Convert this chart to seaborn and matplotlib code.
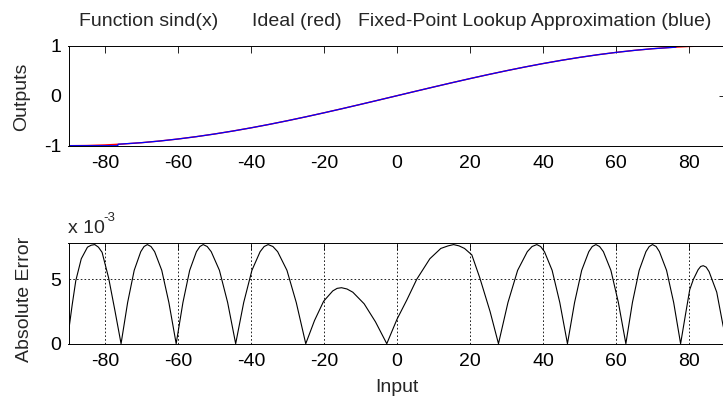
import matplotlib
matplotlib.use("Agg")
import matplotlib.pyplot as plt
import seaborn as sns

# ---------------- data ----------------
angle_deg = [-90, -85, -80, -75, -70, -65, -60, -55, -50, -45, -40, -35, -30, -25, -20, -15, -10, -5,
             0, 5, 10, 15, 20, 25, 30, 35, 40, 45, 50, 55, 60, 65, 70, 75, 80, 85, 90]
sind_ideal = [-1.0, -0.9962, -0.9848, -0.9659, -0.9397, -0.9063, -0.8660, -0.8192, -0.7660, -0.7071,
              -0.6428, -0.5736, -0.5, -0.4226, -0.3420, -0.2588, -0.1736, -0.0872,
              0.0, 0.0872, 0.1736, 0.2588, 0.3420, 0.4226, 0.5, 0.5736, 0.6428, 0.7071, 0.7660,
              0.8192, 0.8660, 0.9063, 0.9397, 0.9659, 0.9848, 0.9962, 1.0]

lookup_deg = [-90, -76.5, -76.4, -70, -65, -60, -55, -50, -45, -40, -35, -30, -25, -20, -15, -10, -5,
              0, 5, 10, 15, 20, 25, 30, 35, 40, 45, 50, 55, 60, 65, 70, 76.4, 76.5, 90]
sind_lookup = [-1.0, -1.0, -0.970, -0.9397, -0.9063, -0.8660, -0.8192, -0.7660, -0.7071, -0.6428,
               -0.5736, -0.5, -0.4226, -0.3420, -0.2588, -0.1736, -0.0872,
               0.0, 0.0872, 0.1736, 0.2588, 0.3420, 0.4226, 0.5, 0.5736, 0.6428, 0.7071, 0.7660,
               0.8192, 0.8660, 0.9063, 0.9397, 0.970, 1.0, 1.0]

err_deg = [-90, -89, -88, -86.5, -84.8, -83.8, -82.8, -81.8, -80.8, -79, -77.3, -75.6,
           -73.8, -72.0, -70.2, -69.3, -68.4, -67.4, -66.4, -64.45, -62.5, -60.5,
           -58.65, -56.8, -54.95, -54.0, -53.1, -52.0, -50.9, -48.65, -46.4, -44.2,
           -42.0, -39.75, -37.5, -36.4, -35.3, -34.0, -32.7, -30.15, -27.6, -25.0,
           -22.6, -20.1, -17.6, -16.4, -15.2, -13.7, -12.1, -9.0, -5.9, -2.8,
           0, 2.7, 5.4, 9.0, 12.0, 14.0, 15.5, 17.0, 18.5, 20.5, 22.7, 25.5, 27.8,
           30.4, 33.05, 35.7, 37.0, 38.3, 39.35, 40.4, 42.5, 44.6, 46.7,
           48.65, 50.6, 52.55, 53.5, 54.5, 55.5, 56.55, 58.6, 60.65, 62.7,
           64.5, 66.35, 68.2, 69.1, 70.0, 71.0, 71.9, 73.85, 75.8, 77.7,
           79.0, 80.2, 81.2, 82.5, 83.2, 83.9, 84.7, 85.5, 87.6, 89.3, 90]
abs_err_e3 = [0.9, 3.0, 4.9, 6.6, 7.5, 7.65, 7.7, 7.5, 7.1, 5.1, 2.6, 0.0,
              3.2, 5.7, 7.15, 7.55, 7.7, 7.55, 7.15, 5.7, 3.2, 0.0,
              3.2, 5.7, 7.15, 7.55, 7.7, 7.55, 7.15, 5.7, 3.2, 0.0,
              3.2, 5.7, 7.15, 7.55, 7.7, 7.55, 7.15, 5.7, 3.2, 0.0,
              1.8, 3.3, 4.1, 4.3, 4.35, 4.25, 4.0, 3.1, 1.7, 0.0,
              1.9, 3.4, 5.0, 6.6, 7.4, 7.6, 7.7, 7.6, 7.4, 6.9, 5.1, 2.5, 0.0,
              3.2, 5.7, 7.15, 7.55, 7.7, 7.55, 7.15, 5.7, 3.2, 0.0,
              3.2, 5.7, 7.15, 7.55, 7.7, 7.55, 7.15, 5.7, 3.2, 0.0,
              3.2, 5.7, 7.15, 7.55, 7.7, 7.55, 7.15, 5.7, 3.2, 0.0,
              2.2, 4.2, 5.0, 5.75, 6.0, 6.06, 5.95, 5.6, 4.0, 1.45, 0.6]

x_ticks = [-80, -60, -40, -20, 0, 20, 40, 60, 80]
x_tick_labels = ["-80", "-60", "-40", "-20", "0", "20", "40", "60", "80"]
top_y_ticks = [-1, 0, 1]
bottom_y_ticks = [0, 5]

# ---------------- style ----------------
sns.set_style("white")
plt.rcParams['font.family'] = ['Liberation Sans', 'DejaVu Sans']

W, H = 723, 397
fig = plt.figure(figsize=(W / 100, H / 100), dpi=100)
ax1 = fig.add_axes([68.5 / W, 1 - 145.7 / H, 657 / W, 100 / H])
ax2 = fig.add_axes([68.5 / W, 1 - 343.7 / H, 657 / W, 100.4 / H])

sns.lineplot(x=angle_deg, y=sind_ideal, ax=ax1, color=(1, 0, 0), lw=1.0)
sns.lineplot(x=lookup_deg, y=sind_lookup, ax=ax1, color=(0, 0, 1), lw=0.9)
sns.lineplot(x=err_deg, y=abs_err_e3, ax=ax2, color='black', lw=0.8)

for ax in (ax1, ax2):
    ax.set_xlim(-90, 90)
    ax.set_xticks(x_ticks)
    ax.set_xticklabels(x_tick_labels)
    ax.tick_params(direction='in', length=5, width=0.6, colors='black',
                   top=True, right=True, labelsize=14, pad=5)
    ax.tick_params(axis='x', pad=7)
    for s in ax.spines.values():
        s.set_visible(True)
        s.set_color('black')
        s.set_linewidth(0.7)
    ax.set_xlabel('')
    ax.set_ylabel('')

ax1.set_ylim(-1, 1)
ax1.set_yticks(top_y_ticks)
ax1.set_yticklabels([str(v) for v in top_y_ticks])

ax2.set_ylim(0, 7.8)
ax2.set_yticks(bottom_y_ticks)
ax2.set_yticklabels([str(v) for v in bottom_y_ticks])
ax2.grid(True, color='black', linestyle=(0, (2, 2.5)), linewidth=0.6)


def px(x, y):
    return x / W, 1 - y / H


fs = 14
fig.text(*px(79, 22), "Function sind(x)", fontsize=fs, va='center', ha='left')
fig.text(*px(252, 22), "Ideal (red)", fontsize=fs, va='center', ha='left')
fig.text(*px(358, 22), "Fixed-Point Lookup Approximation (blue)", fontsize=fs, va='center', ha='left')
fig.text(*px(22, 97), "Outputs", fontsize=fs, rotation=90, va='center', ha='center')
fig.text(*px(25, 299), "Absolute Error", fontsize=fs, rotation=90, va='center', ha='center')
fig.text(*px(397, 387), "Input", fontsize=fs, va='center', ha='center')
fig.text(*px(68, 229), "x 10", fontsize=fs, va='center', ha='left')
fig.text(*px(103, 218), "-3", fontsize=9.5, va='center', ha='left')

fig.savefig("out.png", dpi=100)
